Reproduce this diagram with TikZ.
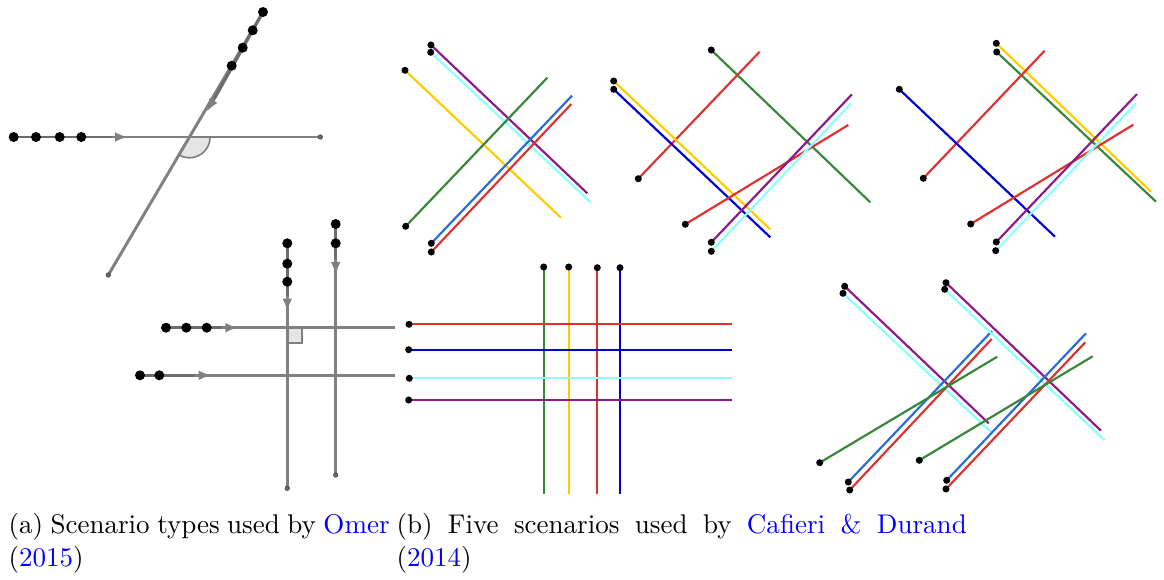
\documentclass[tikz,border=0pt]{standalone}
\usepackage{tikz}
\usetikzlibrary{arrows.meta}

\definecolor{trackgray}{RGB}{128,128,128}
\definecolor{darktrack}{RGB}{108,108,108}
\definecolor{cpurple}{RGB}{140,25,140}
\definecolor{ccyan}{RGB}{140,255,255}
\definecolor{cgold}{RGB}{255,204,0}
\definecolor{cgreen}{RGB}{56,135,56}
\definecolor{cmblue}{RGB}{40,110,210}
\definecolor{cblue}{RGB}{0,0,210}
\definecolor{cred}{RGB}{222,50,50}
\definecolor{citeblue}{RGB}{0,0,255}

\begin{document}
\begin{tikzpicture}[x=0.37pt, y=-0.37pt,
  track/.style={trackgray, line width=1.1pt},
  lead/.style={darktrack, line width=1.1pt},
  headarr/.style={trackgray, line width=1.1pt, -{Latex[length=4.8pt,width=3.6pt]}},
  seg/.style={line width=0.8pt},
  caption/.style={anchor=north west, inner sep=0pt, align=justify}]
\useasboundingbox (0,0) rectangle (1164,579);

% (a) two crossing tracks at an angle
\fill[gray!20] (189.3,137) -- ++(0:7.7pt) arc[start angle=0, end angle=-120.5, radius=7.7pt] -- cycle;
\draw[trackgray, line width=0.6pt] ([shift={(0:7.7pt)}]189.3,137) arc[start angle=0, end angle=-120.5, radius=7.7pt];
\draw[track] (13.7,137) -- (320.3,137);
\draw[track] (263,12) -- (108.3,275);
\draw[lead] (13.7,137) -- (116,137);
\draw[lead] (263,12) -- (214.3,98.8);
\draw[headarr] (112,137) -- (128,137);
\draw[headarr] (214.3,98.8) -- (206.7,111.7);
\foreach \x in {13.7,36,59.7,81.3}
  \fill (\x,137) circle (1.85pt);
\foreach \x/\y in {263/12,252.7/30.3,242.7/47.7,231.7/65.7}
  \fill (\x,\y) circle (1.85pt);
\filldraw[fill=darktrack, draw=black!70, line width=0.3pt] (320.3,137) circle (0.8pt);
\filldraw[fill=darktrack, draw=black!70, line width=0.3pt] (108.3,275) circle (0.8pt);

% (a) two by two grid of tracks
\filldraw[fill=gray!20, draw=trackgray, line width=0.6pt] (287.3,327.7) rectangle (302.3,342.7);
\draw[track] (287.3,243.3) -- (287.3,488.3);
\draw[track] (335.7,224) -- (335.7,475);
\draw[track] (166,327.7) -- (395,327.7);
\draw[track] (140,375.3) -- (395,375.3);
\draw[lead] (287.3,243.3) -- (287.3,300);
\draw[lead] (335.7,224) -- (335.7,264);
\draw[lead] (166,327.7) -- (226,327.7);
\draw[lead] (140,375.3) -- (200,375.3);
\draw[headarr] (287.3,296) -- (287.3,311.7);
\draw[headarr] (335.7,259) -- (335.7,275);
\draw[headarr] (222,327.7) -- (238.3,327.7);
\draw[headarr] (195,375.3) -- (211.7,375.3);
\foreach \y in {243.3,263.7,281.7}
  \fill (287.3,\y) circle (1.85pt);
\foreach \y in {224,243.3}
  \fill (335.7,\y) circle (1.85pt);
\foreach \x in {166,186.3,206.7}
  \fill (\x,327.7) circle (1.85pt);
\foreach \x in {140,159.3}
  \fill (\x,375.3) circle (1.85pt);
\filldraw[fill=darktrack, draw=black!70, line width=0.3pt] (287.3,488.3) circle (0.8pt);
\filldraw[fill=darktrack, draw=black!70, line width=0.3pt] (335.7,475) circle (0.8pt);

% (b) the five scenarios, one segment per flight
\foreach \sx/\sy/\ex/\ey/\c in {
    431/45/587.3/193.3/cpurple, 430.7/52.3/590.7/202.3/ccyan,
    405/70.3/561/217.7/cgold, 405.7/226.3/547.3/77.7/cgreen,
    431.3/243.3/572/95.7/cmblue, 431.3/252/571.3/104/cred,
    711.3/50/870.3/202.3/cgreen, 638.3/178.7/759.7/51.7/cred,
    613.7/81/770.3/229.3/cgold, 613.7/89.3/770.3/237.3/cblue,
    685.3/224.3/848.3/125/cred, 711.3/242.3/852/94.3/cpurple,
    711.3/251.3/851/103.3/ccyan,
    996.3/43.3/1151/191.7/cgold, 996.7/52/1156/201.7/cgreen,
    923.3/178.3/1044.7/50.7/cred, 899.3/89.3/1055/236.7/cblue,
    970.7/224/1133.3/124.7/cred, 996.3/242/1137/94/cpurple,
    995.7/250.7/1136/103.3/ccyan,
    543.7/267/543.7/494.3/cgreen, 568.7/267/568.7/494.3/cgold,
    597.3/267.7/597.3/494.3/cred, 620/267.7/620/494.3/cblue,
    409/324.3/732.3/324.3/cred, 408.7/349.7/732.3/349.7/cblue,
    409.3/378.3/732.3/378.3/ccyan, 408.7/400/732.3/400/cpurple,
    844.7/286.3/988.7/423.3/cpurple, 843/293.3/991.7/432.7/ccyan,
    848.3/482/992/331/cmblue, 849.7/490/991.7/339/cred,
    819.7/462.7/997.3/356.7/cgreen,
    946/282.7/1101/430.7/cpurple, 944.7/289.3/1104.3/440/ccyan,
    946.7/480.3/1086/333.3/cmblue, 946/489/1085.3/342.3/cred,
    919.3/460.3/1092.7/356.3/cgreen} {
  \draw[seg, \c] (\sx,\sy) -- (\ex,\ey);
  \fill (\sx,\sy) circle (1.3pt);
}

\node[caption, text width=141pt] (capa) at (8,513)
  {\noindent(a) Scenario types used by \textcolor{citeblue}{Omer} (\textcolor{citeblue}{2015})};
\node[caption, text width=211pt] (capb) at (396,513)
  {\noindent(b) Five scenarios used by \textcolor{citeblue}{Cafieri \& Durand} (\textcolor{citeblue}{2014})};
\end{tikzpicture}
\end{document}
